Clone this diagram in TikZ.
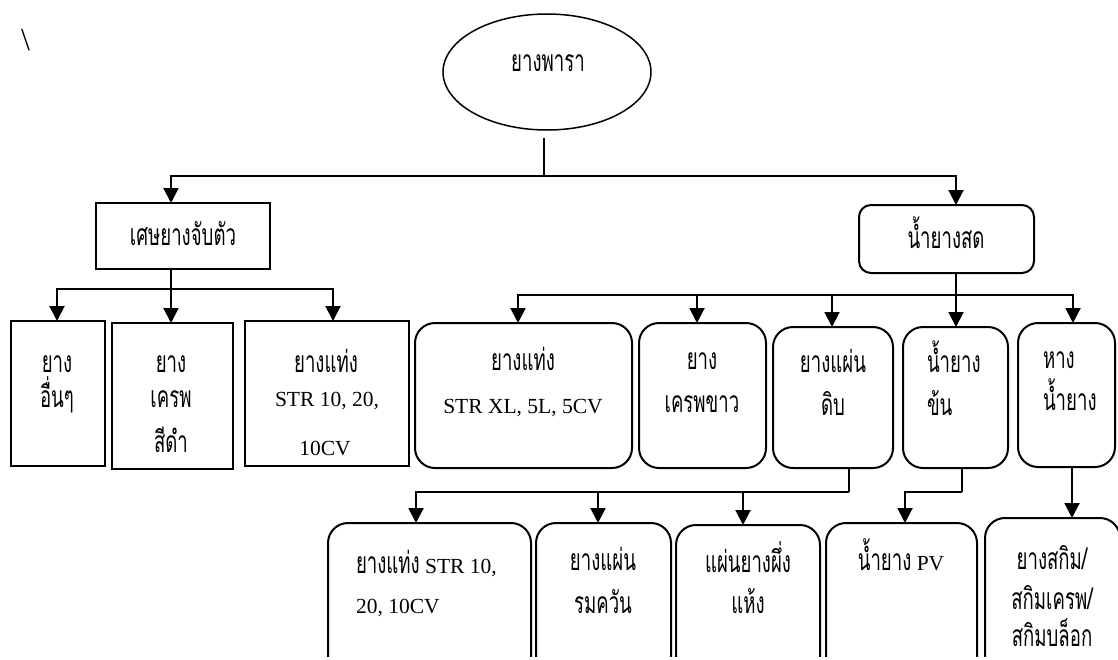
\documentclass[tikz,border=0pt]{standalone}
\usepackage{fontspec}
\setmainfont{Liberation Serif}
\newfontfamily\thaifont[Script=Thai,FakeStretch=0.62]{Loma}
\usetikzlibrary{shapes.geometric,arrows.meta}
\newcommand\tht[1]{{\thaifont\fontsize{30}{30}\selectfont #1}}

\tikzset{
  every node/.style={inner sep=0pt, outer sep=0pt},
  txt/.style={font=\fontsize{21.5}{24}\selectfont, anchor=base},
  txtl/.style={txt, anchor=base west},
  sqbox/.style={draw, line width=2pt},
  rdbox/.style={draw, line width=2pt, rounded corners=20pt},
  link/.style={line width=2pt},
  arr/.style={line width=2pt, -{Triangle[width=15pt,length=15pt]}},
}

\begin{document}
\begin{tikzpicture}[x=1pt, y=-1pt]
\path[use as bounding box] (0,0) rectangle (1118,659);
\begin{scope}
\clip (0,0) rectangle (1118,656);

% stray mark at the top left
\node[font=\fontsize{32}{32}\selectfont] (mark) at (25.5,40) {\textbackslash};

% root
\node[draw, ellipse, line width=1.5pt, minimum width=208pt, minimum height=116pt] (root) at (547,72) {};
\node[txt] (roott) at (548,71) {\tht{ยางพารา}};

% second level
\node[sqbox, minimum width=174pt, minimum height=66pt] (A) at (183,236) {};
\node[txt] (At) at (183,245) {\tht{เศษยางจับตัว}};
\node[draw, line width=2pt, rounded corners=12pt, minimum width=175pt, minimum height=68pt] (B) at (946.5,239) {};
\node[txt] (Bt) at (946,248) {\tht{น้ำยางสด}};

% third level, left branch
\node[sqbox, minimum width=94pt, minimum height=145pt] (a1) at (58,393.5) {};
\node[txt] (a1l1) at (57,372) {\tht{ยาง}};
\node[txt] (a1l2) at (57,407) {\tht{อื่นๆ}};
\node[sqbox, minimum width=121pt, minimum height=146pt] (a2) at (172.5,396) {};
\node[txt] (a2l1) at (171,372) {\tht{ยาง}};
\node[txt] (a2l2) at (171,407) {\tht{เครพ}};
\node[txt] (a2l3) at (171,452) {\tht{สีดำ}};
\node[sqbox, minimum width=164pt, minimum height=145pt] (a3) at (327,393.5) {};
\node[txt] (a3l1) at (326,372) {\tht{ยางแท่ง}};
\node[txt] (a3l2) at (327,406) {STR 10, 20,};
\node[txt] (a3l3) at (325,455) {10CV};

% third level, right branch
\node[rdbox, minimum width=217pt, minimum height=145pt] (b1) at (523.5,395.5) {};
\node[txt] (b1l1) at (523,370) {\tht{ยางแท่ง}};
\node[txt] (b1l2) at (523,413) {STR XL, 5L, 5CV};
\node[rdbox, minimum width=127pt, minimum height=145pt] (b2) at (702.5,395.5) {};
\node[txt] (b2l1) at (702,369) {\tht{ยาง}};
\node[txt] (b2l2) at (702,412) {\tht{เครพขาว}};
\node[rdbox, minimum width=120pt, minimum height=141pt] (b3) at (833,397.5) {};
\node[txt] (b3l1) at (833,372) {\tht{ยางแผ่น}};
\node[txt] (b3l2) at (833,415) {\tht{ดิบ}};
\node[rdbox, minimum width=105pt, minimum height=141pt] (b4) at (955.5,397.5) {};
\node[txtl] (b4l1) at (927,372) {\tht{น้ำยาง}};
\node[txtl] (b4l2) at (927,415) {\tht{ข้น}};
\node[rdbox, minimum width=97pt, minimum height=144pt] (b5) at (1066.5,395) {};
\node[txtl] (b5l1) at (1043,368) {\tht{หาง}};
\node[txtl] (b5l2) at (1043,410) {\tht{น้ำยาง}};

% fourth level
\node[rdbox, minimum width=203pt, minimum height=177pt] (c1) at (429.5,611.5) {};
\node[txtl] (c1l1) at (356,573) {\tht{ยางแท่ง} STR 10,};
\node[txtl] (c1l2) at (356,613) {20, 10CV};
\node[rdbox, minimum width=135pt, minimum height=177pt] (c2) at (603.5,611.5) {};
\node[txt] (c2l1) at (603,570) {\tht{ยางแผ่น}};
\node[txt] (c2l2) at (603,613) {\tht{รมควัน}};
\node[rdbox, minimum width=144pt, minimum height=175pt] (c3) at (748,612.5) {};
\node[txt] (c3l1) at (748,572) {\tht{แผ่นยางผึ่ง}};
\node[txt] (c3l2) at (748,613) {\tht{แห้ง}};
\node[rdbox, minimum width=151pt, minimum height=177pt] (c4) at (901.5,611.5) {};
\node[txt] (c4l1) at (901,570) {\tht{น้ำยาง} PV};
\node[rdbox, minimum width=135pt, minimum height=182pt] (c5) at (1052.5,609) {};
\node[txt] (c5l1) at (1052,569) {\tht{ยางสกิม/}};
\node[txt] (c5l2) at (1052,609) {\tht{สกิมเครพ/}};
\node[txt] (c5l3) at (1052,646) {\tht{สกิมบล็อก}};

% junction points
\coordinate (t0) at (544,138);
\coordinate (t1) at (544,176);
\coordinate (ja) at (171,289);
\coordinate (jb) at (956,295);
\coordinate (jc) at (849,492);
\coordinate (jd) at (962,492);

% connectors from the root
\draw[link] (t0) -- (t1);
\draw[arr] (t1) -| ([xshift=-12pt]A.north);
\draw[arr] (t1) -| ([xshift=9.5pt]B.north);

% connectors of the left branch
\draw[link] ([xshift=-12pt]A.south) -- (ja);
\draw[arr] (ja) -| ([xshift=-1pt]a1.north);
\draw[arr] (ja) -- (ja |- a2.north);
\draw[arr] (ja) -| ([xshift=6pt]a3.north);

% connectors of the right branch
\draw[link] ([xshift=9.5pt]B.south) -- (jb);
\draw[arr] (jb) -| ([xshift=-5.5pt]b1.north);
\draw[arr] (jb) -| ([xshift=-5.5pt]b2.north);
\draw[arr] (jb) -| ([xshift=-1pt]b3.north);
\draw[arr] (jb) -- (jb |- b4.north);
\draw[arr] (jb) -| ([xshift=6.5pt]b5.north);

% connectors to the fourth level
\draw[link] ([xshift=16pt]b3.south) -- (jc);
\draw[arr] (jc) -| ([xshift=-13.5pt]c1.north);
\draw[arr] (jc) -| ([xshift=-5.5pt]c2.north);
\draw[arr] (jc) -| ([xshift=-5pt]c3.north);
\draw[link] ([xshift=6.5pt]b4.south) -- (jd);
\draw[arr] (jd) -| ([xshift=3.5pt]c4.north);
\draw[arr] ([xshift=5.5pt]b5.south) -- ([xshift=5.5pt]b5.south |- c5.north);
\end{scope}
\end{tikzpicture}
\end{document}
